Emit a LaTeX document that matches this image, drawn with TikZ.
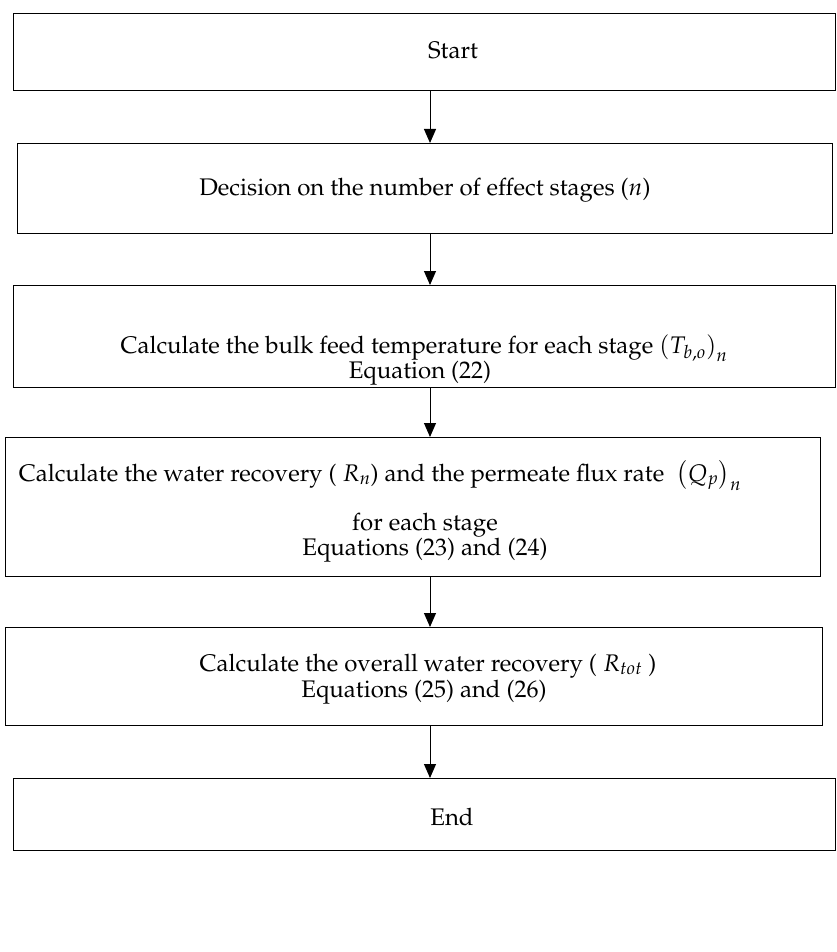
\documentclass[tikz,border=0pt]{standalone}
\usepackage[T1]{fontenc}
\usepackage{mathpazo}
\usepackage{amsmath}
\usetikzlibrary{arrows.meta, positioning, calc}

\begin{document}
\begin{tikzpicture}[
  x=1pt, y=-1pt,
  box/.style={rectangle, draw, line width=1.4pt, inner sep=0pt, anchor=north west},
  txt/.style={inner sep=0pt, anchor=base, font=\fontsize{24}{26}\selectfont},
  arrow/.style={-{Triangle[length=14pt, width=12pt]}, line width=1pt},
]
\useasboundingbox (0,0) rectangle (836,952);

% Start
\node[box, minimum width=822pt, minimum height=77pt] at (13,13) (start) {};
\node[txt] at (453,59) (starttxt) {Start};

% Number of stages
\node[box, minimum width=815pt, minimum height=90pt] at (17,143) (decision) {};
\node[txt] at (425,195) (decisiontxt) {Decision on the number of effect stages ($n$)};

% Bulk feed temperature
\node[box, minimum width=822pt, minimum height=102pt] at (13,285) (bulk) {};
\node[txt] at (424,353) (bulktxt) {Calculate the bulk feed temperature for each stage $\left(T_{b,o}\right)_n$};
\node[txt] at (420,378) (bulkeq) {Equation (22)};

% Recovery and flux
\node[box, minimum width=815pt, minimum height=139pt] at (5,437) (recovery) {};
\node[txt] at (380,481) (recoverytxt) {Calculate the water recovery ( $R_n$) and the permeate flux rate ~$\left(Q_p\right)_n$};
\node[txt] at (425,530) (recoverystage) {for each stage};
\node[txt] at (425,555) (recoveryeq) {Equations (23) and (24)};

% Overall recovery
\node[box, minimum width=817pt, minimum height=98pt] at (5,627) (overall) {};
\node[txt] at (428,671) (overalltxt) {Calculate the overall water recovery ( $R_{tot}$ )};
\node[txt] at (424,697) (overalleq) {Equations (25) and (26)};

% End
\node[box, minimum width=822pt, minimum height=72pt] at (13,778) (finish) {};
\node[txt] at (452,825) (finishtxt) {End};

% Arrows
\coordinate (axis) at (430,0);
\draw[arrow] (start.south -| axis) -- (decision.north -| axis);
\draw[arrow] (decision.south -| axis) -- (bulk.north -| axis);
\draw[arrow] (bulk.south -| axis) -- (recovery.north -| axis);
\draw[arrow] (recovery.south -| axis) -- (overall.north -| axis);
\draw[arrow] (overall.south -| axis) -- (finish.north -| axis);

\end{tikzpicture}
\end{document}
